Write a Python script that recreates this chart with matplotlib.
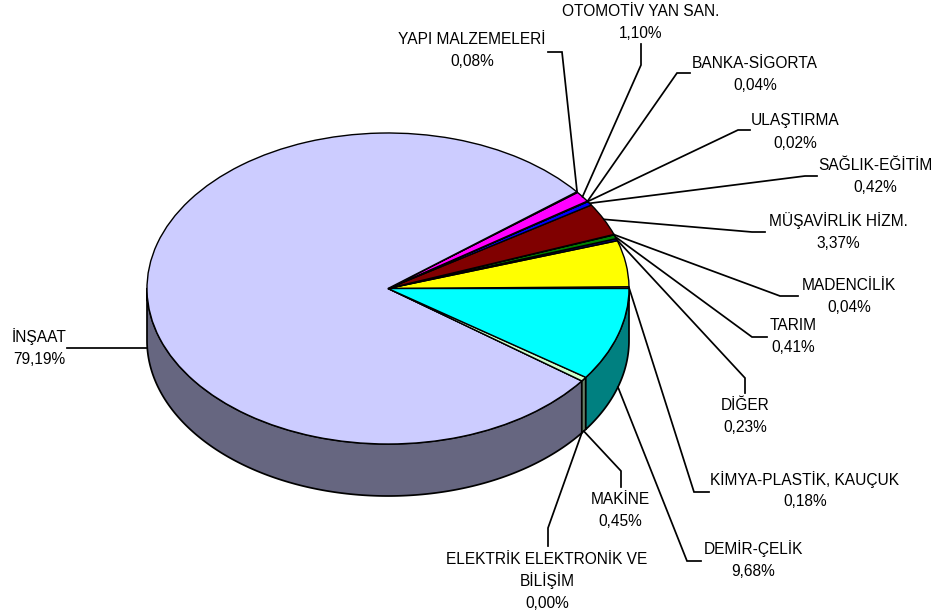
import numpy as np
import matplotlib
matplotlib.use("Agg")
import matplotlib.pyplot as plt

plt.rcParams['font.family'] = ['Liberation Sans', 'DejaVu Sans']

# counter-clockwise from 3 o'clock
names = ["KİMYA-PLASTİK, KAUÇUK", "", "DİĞER", "TARIM", "MADENCİLİK", "MÜŞAVİRLİK HİZM.",
         "SAĞLIK-EĞİTİM", "ULAŞTIRMA", "BANKA-SİGORTA", "OTOMOTİV YAN SAN.", "YAPI MALZEMELERİ",
         "İNŞAAT", "ELEKTRİK ELEKTRONİK VE\nBİLİŞİM", "MAKİNE", "DEMİR-ÇELİK"]
values = [0.18, 4.79, 0.23, 0.41, 0.04, 3.37, 0.42, 0.02, 0.04, 1.10, 0.08, 79.19, 0.00, 0.45, 9.68]
shown = ["0,18%", "", "0,23%", "0,41%", "0,04%", "3,37%", "0,42%", "0,02%", "0,04%", "1,10%", "0,08%",
         "79,19%", "0,00%", "0,45%", "9,68%"]
top_colors = ["#FF8080", "#FFFF00", "#000080", "#008000", "#800080", "#800000", "#0000FF", "#00CCFF",
              "#008080", "#FF00FF", "#800080", "#CCCCFF", "#CCFFCC", "#CCFFCC", "#00FFFF"]
wall_colors = {"İNŞAAT": "#666680", "MAKİNE": "#668066", "DEMİR-ÇELİK": "#008080",
               "ELEKTRİK ELEKTRONİK VE\nBİLİŞİM": "#668066"}

# layout, in figure pixels
W, H = 935, 614
CX, CY, RX, RY, DEPTH = 388, 288.5, 241, 155.5, 52
label_xy = [(805, 480), None, (745, 405), (793, 326), (849, 285), (838, 221), (875, 165), (795, 121),
            (755, 63), (641, 12), (472, 40), (39, 337), (547, 559), (620, 499), (753, 549)]
leaders = [[(709, 492), (694, 492)], None, [(745, 393), (745, 378)], [(767, 337), (752, 337)],
           [(798, 296), (780, 296)], [(765, 232), (752, 232)], [(817, 176), (805, 176)],
           [(750, 130), (738, 130)], [(690, 73), (677, 73)], [(641, 44), (641, 65)],
           [(548, 52), (562, 52)], [(67, 348)], [(548, 546), (548, 528)], [(621, 487), (621, 471)],
           [(701, 561), (687, 561)]]
on_wall = {"İNŞAAT", "MAKİNE", "DEMİR-ÇELİK", "ELEKTRİK ELEKTRONİK VE\nBİLİŞİM"}

fig = plt.figure(figsize=(W / 100, H / 100), dpi=100)
ax = fig.add_axes([0, 0, 1, 1])
EDGE = 1.0


def d(x, y):
    return (x - CX) / RX, (CY - y) / RY


wedges, _ = ax.pie(values, colors=top_colors, startangle=0, counterclock=True, radius=1,
                   wedgeprops=dict(edgecolor="black", linewidth=EDGE, zorder=5))
ax.set_aspect("auto")
x0, y1 = d(0, 0)
x1, y0 = d(W, H)
ax.set_xlim(x0, x1)
ax.set_ylim(y0, y1)
ax.axis("off")

dz = DEPTH / RY
edges = np.concatenate([[0], np.cumsum(values)]) / sum(values) * 360
for i, name in enumerate(names):
    a0, a1 = edges[i], edges[i + 1]
    lo, hi = max(a0, 180), min(a1, 360)
    if name in wall_colors and hi >= lo:
        t = np.radians(np.linspace(lo, hi, 200))
        xs = np.cos(t)
        ys = np.sin(t)
        ax.fill(np.r_[xs, xs[::-1]], np.r_[ys, ys[::-1] - dz], facecolor=wall_colors[name],
                edgecolor="black", linewidth=1.25, zorder=2, joinstyle="round")

for i, name in enumerate(names):
    if label_xy[i] is None:
        continue
    mid = np.radians((edges[i] + edges[i + 1]) / 2)
    ax_pt = (np.cos(mid), np.sin(mid) - (dz if name in on_wall and name != "İNŞAAT" else 0))
    pts = [d(*p) for p in leaders[i]]
    if name == "İNŞAAT":
        pts.append((-1, d(0, 348)[1]))
    else:
        pts.append(ax_pt)
    ax.plot(*zip(*pts), color="black", lw=1.25, zorder=6, solid_joinstyle="miter")
    lx, ly = label_xy[i]
    lines = name.split("\n") + [shown[i]]
    for j, line in enumerate(lines):
        tx, ty = d(lx, ly + j * 22)
        ax.text(tx, ty, line, ha="center", va="center", fontsize=11.2, color="black", zorder=7)

fig.savefig("out.png", dpi=100, facecolor="white")
